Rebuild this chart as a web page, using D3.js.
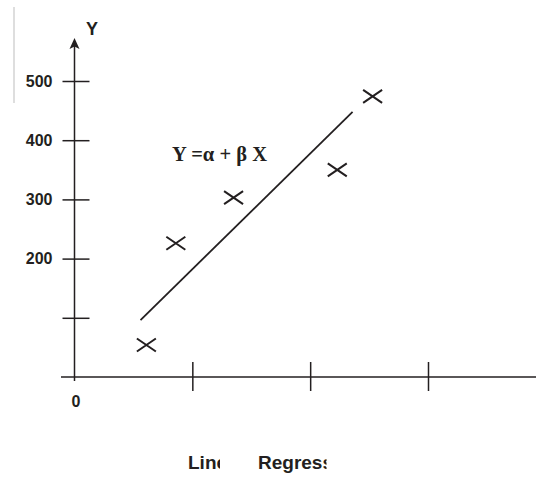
<!DOCTYPE html>
<html>
<head>
<meta charset="utf-8">
<script src="https://cdn.jsdelivr.net/npm/d3@7"></script>
<style>
  html, body { margin: 0; padding: 0; background: #fff; }
  svg { display: block; }
</style>
</head>
<body>
<script>
// ---- data ----
const xTicks = [1, 2, 3];
const yTicks = [100, 200, 300, 400, 500];
const yTickLabels = ["", "200", "300", "400", "500"];
const pointsX = [0.61, 0.86, 1.35, 2.23, 2.53];
const pointsY = [54, 226, 303, 350, 474];
const fitX = [0.56, 2.36];
const fitY = [96, 448];
const equation = "Y =\u03b1 + \u03b2 X";
const axisYLabel = "Y";
const originLabel = "0";
const captionParts = ["Linear", "Regression"];

const W = 536, H = 477;
const ink = "#231f20";
const svg = d3.select("body").append("svg").attr("width", W).attr("height", H);

const x = d3.scaleLinear().domain([0, 3]).range([74.5, 428]);
const y = d3.scaleLinear().domain([0, 500]).range([377, 81]);

// faint grey rule at left
svg.append("line").attr("x1", 14).attr("x2", 14).attr("y1", 7).attr("y2", 103)
  .attr("stroke", "#c8c8c8").attr("stroke-width", 1.2);

// Y axis with ticks crossing the axis
const yAxis = d3.axisLeft(y).tickValues(yTicks).tickSize(12).tickPadding(10)
  .tickFormat((d, i) => yTickLabels[i]);
const gy = svg.append("g").attr("transform", `translate(${x(0)},0)`).call(yAxis);
gy.select(".domain").remove();
gy.selectAll(".tick line").attr("x1", 15).attr("stroke", ink).attr("stroke-width", 1.5);
gy.selectAll(".tick text").attr("font-family", "Liberation Sans, Arial, sans-serif")
  .attr("font-size", 16).attr("font-weight", "bold").attr("fill", ink);

// X axis ticks crossing the axis
const xAxis = d3.axisBottom(x).tickValues(xTicks).tickSize(14).tickFormat("");
const gx = svg.append("g").attr("transform", `translate(0,${y(0)})`).call(xAxis);
gx.select(".domain").remove();
gx.selectAll(".tick line").attr("y1", -15).attr("stroke", ink).attr("stroke-width", 1.5);

// axis lines
svg.append("line").attr("x1", x(0)).attr("x2", x(0)).attr("y1", 46).attr("y2", 381)
  .attr("stroke", ink).attr("stroke-width", 1.5);
svg.append("line").attr("x1", 61).attr("x2", W).attr("y1", y(0)).attr("y2", y(0))
  .attr("stroke", ink).attr("stroke-width", 1.5);

// arrowhead on Y axis
const ax = x(0);
svg.append("path")
  .attr("d", `M${ax},38 L${ax + 5},49 L${ax},46.5 L${ax - 5},49 Z`)
  .attr("fill", ink);

svg.append("text").attr("x", 86).attr("y", 35).text(axisYLabel)
  .attr("font-family", "Liberation Sans, Arial, sans-serif").attr("font-size", 18)
  .attr("font-weight", "bold").attr("fill", ink);

svg.append("text").attr("x", x(0) + 1.5).attr("y", 407).attr("text-anchor", "middle")
  .text(originLabel)
  .attr("font-family", "Liberation Sans, Arial, sans-serif").attr("font-size", 16)
  .attr("font-weight", "bold").attr("fill", ink);

// fitted line
svg.append("line")
  .attr("x1", x(fitX[0])).attr("y1", y(fitY[0]))
  .attr("x2", x(fitX[1])).attr("y2", y(fitY[1]))
  .attr("stroke", ink).attr("stroke-width", 1.8);

// crosses
const hw = 9.5, hh = 6.5;
const pts = pointsX.map((v, i) => [x(v), y(pointsY[i])]);
svg.append("g").selectAll("path").data(pts).join("path")
  .attr("d", d => `M${d[0] - hw},${d[1] - hh} L${d[0] + hw},${d[1] + hh} M${d[0] - hw},${d[1] + hh} L${d[0] + hw},${d[1] - hh}`)
  .attr("stroke", ink).attr("stroke-width", 2).attr("fill", "none");

// equation
svg.append("text").attr("x", 172).attr("y", 161).text(equation)
  .attr("font-family", "Liberation Serif, Times New Roman, serif").attr("font-size", 20.5)
  .attr("font-weight", "bold").attr("fill", ink);

// partially hidden caption
const defs = svg.append("defs");
defs.append("clipPath").attr("id", "c1").append("rect")
  .attr("x", 180).attr("y", 440).attr("width", 40).attr("height", 37);
defs.append("clipPath").attr("id", "c2").append("rect")
  .attr("x", 250).attr("y", 440).attr("width", 76.5).attr("height", 37);
const capStyle = s => s.attr("font-family", "Liberation Sans, Arial, sans-serif")
  .attr("font-size", 19).attr("font-weight", "bold").attr("fill", ink);
svg.append("text").attr("x", 188).attr("y", 469).attr("clip-path", "url(#c1)")
  .text(captionParts[0]).call(capStyle);
svg.append("text").attr("x", 258).attr("y", 469).attr("clip-path", "url(#c2)")
  .text(captionParts[1]).call(capStyle);
</script>
</body>
</html>
